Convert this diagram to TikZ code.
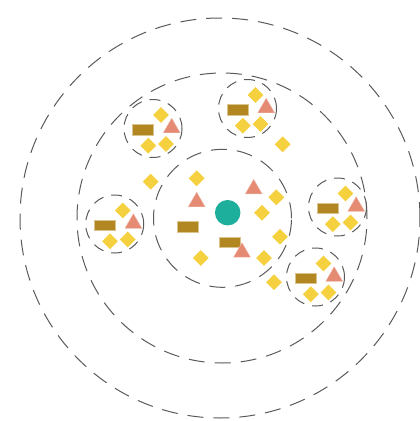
\documentclass[tikz,border=0pt]{standalone}
\usetikzlibrary{shapes.geometric}
\definecolor{dia}{HTML}{F5D03F}
\definecolor{tri}{HTML}{E58B73}
\definecolor{bar}{HTML}{B28620}
\definecolor{teal}{HTML}{1DAE9C}
\definecolor{ring}{HTML}{5A5A5A}
\tikzset{
  ringbig/.style={draw=ring, line width=1pt, dash pattern=on 16pt off 10pt},
  ringsmall/.style={draw=ring, line width=1pt, dash pattern=on 11pt off 8pt},
  dmd/.style={diamond, fill=dia, inner sep=0pt, minimum width=16pt, minimum height=16pt},
  trg/.style={regular polygon, regular polygon sides=3, fill=tri, draw=tri!60!white, line width=0.4pt, inner sep=0pt, minimum size=19.4pt},
  barbox/.style={rectangle, fill=bar, draw=bar!50!white, line width=0.5pt, inner sep=0pt, minimum width=21pt, minimum height=10.5pt},
  hub/.style={circle, fill=teal, inner sep=0pt, minimum size=25.5pt},
  pics/cluster/.style={code={
    \node[ringsmall, circle, minimum size=58pt, inner sep=0pt] (-ring) at (0,0) {};
    \node[barbox] (-bar) at (-10,1) {};
    \node[trg] (-tri) at (18.7,-0.6) {};
    \node[dmd] (-d1) at (8,-13.5) {};
    \node[dmd] (-d2) at (-4.7,17.2) {};
    \node[dmd] (-d3) at (13,15.5) {};
  }}
}
\begin{document}
\begin{tikzpicture}[x=1pt,y=-1pt]
\useasboundingbox (0,0) rectangle (420,421);
\node[ringbig, circle, minimum size=400pt, inner sep=0pt] (outer) at (220,218) {};
\node[ringbig, circle, minimum size=290pt, inner sep=0pt] (middle) at (222,218) {};
\node[ringbig, circle, minimum size=138pt, inner sep=0pt] (inner) at (222.5,218.3) {};

\pic (c1) at (153,128.5) {cluster};
\pic (c2) at (247.5,108.5) {cluster};
\pic (c3) at (114.7,224) {cluster};
\pic (c4) at (337.5,207) {cluster};
\pic (c5) at (315.5,277) {cluster};

\node[hub] (center) at (227.7,212.7) {};
\node[barbox] (ba) at (188.2,226.8) {};
\node[barbox] (bb) at (229.5,242.2) {};
\node[trg] (ta) at (196.7,201.9) {};
\node[trg] (tb) at (253.7,189) {};
\node[trg] (tc) at (242,252.3) {};

\node[dmd] (da) at (196.7,178.3) {};
\node[dmd] (db) at (200.7,258) {};
\node[dmd] (dc) at (276.3,197.3) {};
\node[dmd] (dd) at (262,212.7) {};
\node[dmd] (de) at (280,236.7) {};
\node[dmd] (df) at (264,258) {};
\node[dmd] (dg) at (274,282.3) {};
\node[dmd] (dh) at (150.7,181.7) {};
\node[dmd] (di) at (282.7,144.3) {};
\end{tikzpicture}
\end{document}
